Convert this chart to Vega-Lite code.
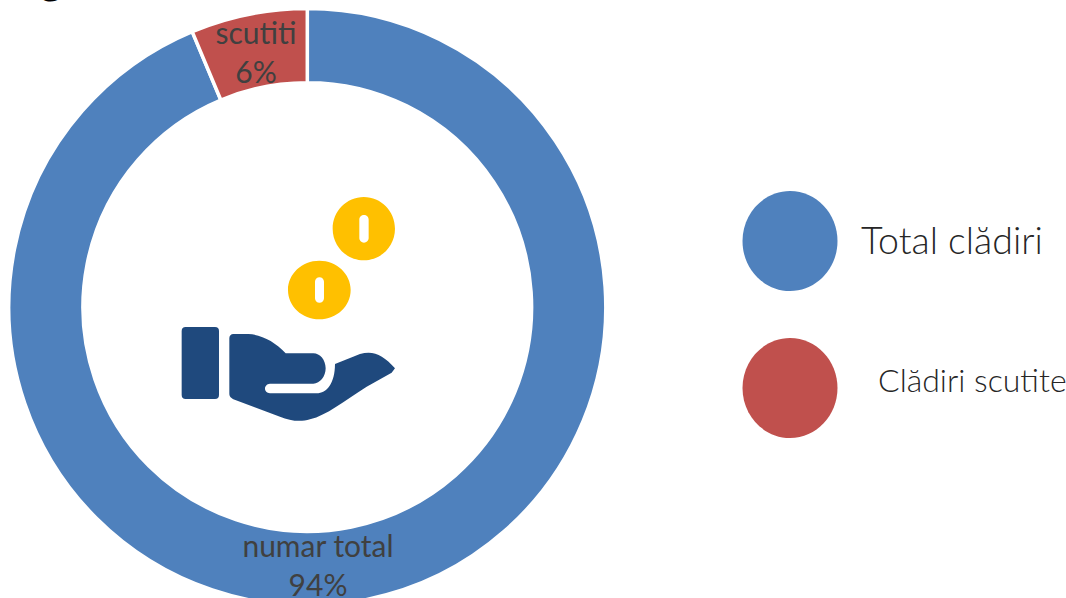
{
"$schema":"https://vega.github.io/schema/vega-lite/v6.json",
"width":1066,"height":598,"padding":0,"autosize":{"type":"none"},
"background":"white",
"view":{"stroke":null},
"encoding":{
 "x":{"field":"x","type":"quantitative","scale":{"domain":[0,1066],"nice":false,"zero":false},"axis":null},
 "y":{"field":"y","type":"quantitative","scale":{"domain":[598,0],"nice":false,"zero":false},"axis":null}
},
"layer":[
 {"data":{"values":[
   {"segment":"numar total","share":93.7,"rank":1,"x":307.3,"y":307},
   {"segment":"scutiti","share":6.3,"rank":2,"x":307.3,"y":307}]},
  "mark":{"type":"arc","outerRadius":298.5,"innerRadius":224.3,"stroke":"white","strokeWidth":3.5},
  "encoding":{
   "theta":{"field":"share","type":"quantitative","stack":true},
   "order":{"field":"rank","type":"ordinal"},
   "color":{"field":"segment","type":"nominal","legend":null,"scale":{"domain":["numar total","scutiti"],"range":["#4F81BD","#C0504D"]}}
  }},
 {"data":{"values":[{"label":"numar total","x":318,"y":548},{"label":"94%","x":318,"y":587},{"label":"scutiti","x":256,"y":35},{"label":"6%","x":256,"y":74}]},
  "mark":{"type":"text","font":"Lato","fontSize":30,"fill":"#404040","align":"center","baseline":"middle"},
  "encoding":{"text":{"field":"label"}}},
 {"data":{"values":[{"label":"g","x":51,"y":-7}]},
  "mark":{"type":"text","font":"Lato","fontSize":48,"fill":"#000000","align":"center","baseline":"alphabetic","clip":true},
  "encoding":{"text":{"field":"label"}}},
 {"data":{"values":[{"item":"Total clădiri","x":790,"y":241},{"item":"Clădiri scutite","x":790,"y":388}]},
  "mark":{"type":"point","filled":true,"opacity":1,"size":4,"strokeWidth":0,"shape":"M -47.5 0 A 47.5 50 0 1 1 47.5 0 A 47.5 50 0 1 1 -47.5 0 Z"},
  "encoding":{"color":{"field":"item","type":"nominal","legend":null,"scale":{"domain":["Total clădiri","Clădiri scutite"],"range":["#4F81BD","#C0504D"]}}}},
 {"data":{"values":[{"label":"Total clădiri","x":861,"y":243}]},
  "mark":{"type":"text","font":"Lato","fontWeight":300,"fontSize":37.5,"fill":"#262626","align":"left","baseline":"middle"},
  "encoding":{"text":{"field":"label"}}},
 {"data":{"values":[{"label":"Clădiri scutite","x":878,"y":382}]},
  "mark":{"type":"text","font":"Lato","fontWeight":300,"fontSize":32,"fill":"#262626","align":"left","baseline":"middle"},
  "encoding":{"text":{"field":"label"}}},
 {"data":{"values":[{"part":"coins","x":170,"y":190}]},
  "mark":{"type":"point","filled":true,"opacity":1,"size":0.4444,"strokeWidth":0,"fill":"#FFC000",
   "shape":"M 488 116 A 93.5 95 0 1 1 675 116 A 93.5 95 0 1 1 488 116 Z M 568 89 L 568 144 A 14 14 0 0 0 596 144 L 596 89 A 14 14 0 0 0 568 89 Z M 354 300 A 94 88 0 1 1 542 300 A 94 88 0 1 1 354 300 Z M 435 275 L 435 325 A 13.5 13.5 0 0 0 462 325 L 462 275 A 13.5 13.5 0 0 0 435 275 Z"}},
 {"data":{"values":[{"part":"hand","x":170,"y":190}]},
  "mark":{"type":"point","filled":true,"opacity":1,"size":0.4444,"strokeWidth":0,"fill":"#1F497D",
   "shape":"M 47 411 L 135 411 Q 147 411 147 423 L 147 615 Q 147 627 135 627 L 47 627 Q 35 627 35 615 L 35 423 Q 35 411 47 411 Z M 190 432 L 235 432 C 275 434 315 455 347 490 L 430 490 C 450 490 467 510 467 535 C 467 560 450 580 430 581 L 300 581 C 280 582 280 610 300 610 L 440 610 C 470 610 495 580 495 522 L 570 492 C 610 480 640 495 675 535 L 665 548 L 590 590 C 520 635 470 675 420 688 C 390 697 360 692 330 680 L 190 628 C 180 622 178 618 178 610 L 178 445 C 178 437 183 432 190 432 Z"}}
]
}
